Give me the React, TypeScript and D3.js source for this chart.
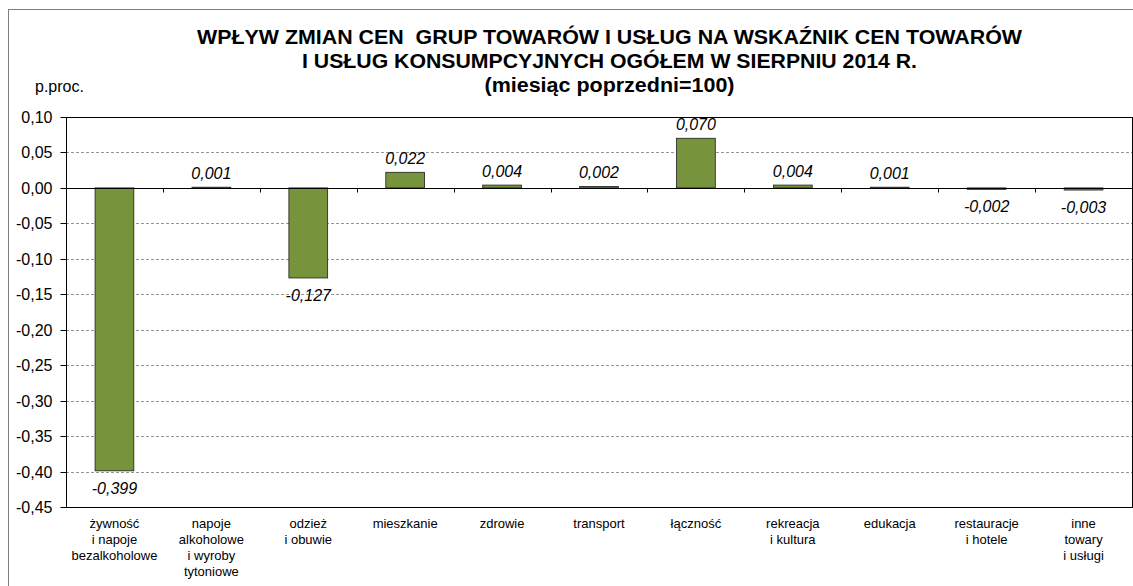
import React, { useEffect, useRef } from 'react';
import * as d3 from 'd3';

// Categories (each label split into lines as in the original)
const categories = [
  ['żywność', 'i napoje', 'bezalkoholowe'],
  ['napoje', 'alkoholowe', 'i wyroby', 'tytoniowe'],
  ['odzież', 'i obuwie'],
  ['mieszkanie'],
  ['zdrowie'],
  ['transport'],
  ['łączność'],
  ['rekreacja', 'i kultura'],
  ['edukacja'],
  ['restauracje', 'i hotele'],
  ['inne', 'towary', 'i usługi'],
];

// Contribution in percentage points
const values = [-0.399, 0.001, -0.127, 0.022, 0.004, 0.002, 0.07, 0.004, 0.001, -0.002, -0.003];

const yTicks = [0.1, 0.05, 0, -0.05, -0.1, -0.15, -0.2, -0.25, -0.3, -0.35, -0.4, -0.45];

const titleLines = [
  'WPŁYW ZMIAN CEN  GRUP TOWARÓW I USŁUG NA WSKAŹNIK CEN TOWARÓW',
  'I USŁUG KONSUMPCYJNYCH OGÓŁEM W SIERPNIU 2014 R.',
  '(miesiąc poprzedni=100)',
];
const titleWidths = [825, 615, 250];

const fmt = (v: number, d: number) => v.toFixed(d).replace('.', ',');

export default function App() {
  const svgRef = useRef<SVGSVGElement>(null);

  useEffect(() => {
    const svg = d3.select(svgRef.current);
    svg.selectAll('*').remove();

    const W = 1133;
    const H = 586;
    const left = 66, right = 1132, top = 117, bottom = 507;
    const font = 'Arial, "Liberation Sans", sans-serif';

    svg.attr('width', W).attr('height', H).style('font-family', font);

    // outer frame (runs past the picture edge)
    svg.append('rect')
      .attr('x', 8.5).attr('y', 9.5)
      .attr('width', 1135).attr('height', 590)
      .attr('fill', 'white')
      .attr('stroke', '#808080');

    // title
    titleLines.forEach((t, i) => {
      svg.append('text')
        .attr('x', 609.5 - titleWidths[i] / 2)
        .attr('y', 44 + i * 24)
        .attr('textLength', titleWidths[i])
        .attr('lengthAdjust', 'spacingAndGlyphs')
        .style('white-space', 'pre')
        .style('font-weight', 'bold')
        .style('font-size', '20px')
        .text(t);
    });

    svg.append('text')
      .attr('x', 35).attr('y', 92)
      .style('font-size', '16px')
      .text('p.proc.');

    const x = d3.scaleBand<number>()
      .domain(d3.range(values.length))
      .range([left, right])
      .paddingInner(0.6)
      .paddingOuter(0.3);

    const y = d3.scaleLinear()
      .domain([-0.45, 0.1])
      .range([bottom, top]);

    // gridlines
    svg.append('g')
      .selectAll('line')
      .data(yTicks.filter(t => t !== 0.1 && t !== 0 && t !== -0.45))
      .enter()
      .append('line')
      .attr('x1', left).attr('x2', right)
      .attr('y1', d => Math.round(y(d)) + 0.5)
      .attr('y2', d => Math.round(y(d)) + 0.5)
      .attr('stroke', '#969696')
      .attr('stroke-dasharray', '3,2');

    // y axis
    const yAxis = svg.append('g')
      .attr('transform', `translate(${left + 0.5},0)`)
      .call(d3.axisLeft(y).tickValues(yTicks).tickSize(6).tickFormat(d => fmt(+d, 2)));
    yAxis.select('.domain').remove();
    yAxis.selectAll('line').attr('stroke', 'black');
    yAxis.selectAll('text')
      .style('font-size', '16px')
      .style('font-family', font)
      .attr('fill', 'black')
      .attr('x', -14);
    yAxis.selectAll('.tick').attr('transform', d => `translate(0,${Math.round(y(d as number)) + 0.5})`);

    // bars
    svg.append('g')
      .selectAll('rect')
      .data(values)
      .enter()
      .append('rect')
      .attr('x', (d, i) => x(i)!)
      .attr('y', d => y(Math.max(0, d)))
      .attr('width', x.bandwidth())
      .attr('height', d => Math.max(1, Math.abs(y(d) - y(0))))
      .attr('fill', '#77933C')
      .attr('stroke', '#1e1e1e')
      .attr('stroke-width', 0.8);

    // zero line + category ticks
    const y0 = Math.round(y(0)) + 0.5;
    svg.append('line')
      .attr('x1', left).attr('x2', right)
      .attr('y1', y0).attr('y2', y0)
      .attr('stroke', 'black');
    const step = (right - left) / values.length;
    svg.append('g')
      .selectAll('line')
      .data(d3.range(1, values.length))
      .enter()
      .append('line')
      .attr('x1', i => Math.round(left + i * step) + 0.5)
      .attr('x2', i => Math.round(left + i * step) + 0.5)
      .attr('y1', y0).attr('y2', y0 + 4)
      .attr('stroke', 'black');

    // plot frame
    svg.append('rect')
      .attr('x', left + 0.5).attr('y', top + 0.5)
      .attr('width', right - left).attr('height', bottom - top)
      .attr('fill', 'none')
      .attr('stroke', 'black');

    // value labels
    svg.append('g')
      .selectAll('text')
      .data(values)
      .enter()
      .append('text')
      .attr('x', (d, i) => x(i)! + x.bandwidth() / 2)
      .attr('y', d => (d >= 0 ? y(d) - 8 : y(d) + 23))
      .attr('text-anchor', 'middle')
      .style('font-size', '16px')
      .style('font-style', 'italic')
      .text(d => fmt(d, 3));

    // category labels
    const catG = svg.append('g')
      .selectAll('text')
      .data(categories)
      .enter()
      .append('text')
      .attr('text-anchor', 'middle')
      .style('font-size', '13px');
    catG.each(function (lines, i) {
      const t = d3.select(this);
      lines.forEach((l, j) => {
        t.append('tspan')
          .attr('x', x(i)! + x.bandwidth() / 2)
          .attr('y', 528 + j * 16)
          .text(l);
      });
    });
  }, []);

  return (
    <svg ref={svgRef} style={{ position: 'absolute', left: 0, top: 0, display: 'block' }}></svg>
  );
}
